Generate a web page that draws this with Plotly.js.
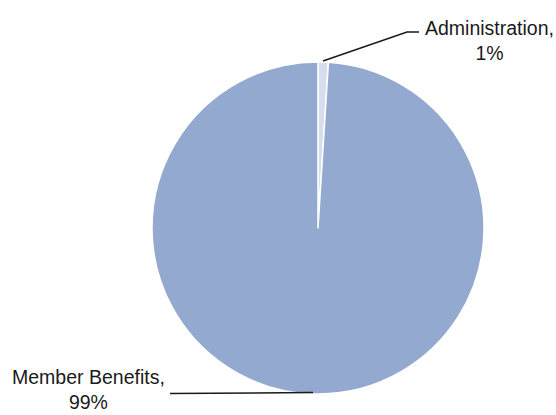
<!DOCTYPE html>
<html>
<head>
<meta charset="utf-8">
<script src="https://cdn.plot.ly/plotly-3.0.1.min.js"></script>
<style>
html,body{margin:0;padding:0;background:#fff;}
#chart{width:556px;height:415px;}
</style>
</head>
<body>
<div id="chart"></div>
<script>
const categories = ['Administration', 'Member Benefits'];
const shares = [1, 99];
const sliceColors = ['#d6deee', '#94a9cf'];

const W = 556, H = 415;
const fx = x => x / W;
const fy = y => 1 - y / H;

const total = shares.reduce((a, b) => a + b, 0);
const pct = shares.map(v => Math.round(v / total * 100) + '%');

const trace = {
  type: 'pie',
  labels: categories,
  values: shares,
  sort: false,
  direction: 'clockwise',
  rotation: 0,
  textinfo: 'none',
  hoverinfo: 'none',
  marker: {colors: sliceColors, line: {color: '#ffffff', width: 1.5}},
  domain: {x: [fx(152), fx(484)], y: [fy(394), fy(62)]},
  showlegend: false
};

const labelFont = {family: '"Liberation Sans", Arial, sans-serif', size: 19.5, color: '#1a1a1a'};

const layout = {
  width: W, height: H,
  margin: {l: 0, r: 0, t: 0, b: 0},
  paper_bgcolor: '#ffffff',
  showlegend: false,
  annotations: [
    {text: categories[0] + ',<br>' + pct[0], x: fx(489), y: fy(41), xref: 'paper', yref: 'paper',
     xanchor: 'center', yanchor: 'middle', showarrow: false, align: 'center', font: labelFont},
    {text: categories[1] + ',<br>' + pct[1], x: fx(88), y: fy(389), xref: 'paper', yref: 'paper',
     xanchor: 'center', yanchor: 'middle', showarrow: false, align: 'center', font: labelFont}
  ],
  shapes: [
    {type: 'path', xref: 'paper', yref: 'paper',
     path: 'M ' + fx(323) + ' ' + fy(61) + ' L ' + fx(407) + ' ' + fy(32) + ' L ' + fx(419) + ' ' + fy(32),
     line: {color: '#1a1a1a', width: 1.5}},
    {type: 'line', xref: 'paper', yref: 'paper',
     x0: fx(170), y0: fy(393.5), x1: fx(313), y1: fy(392.5),
     line: {color: '#1a1a1a', width: 1.5}}
  ]
};

Plotly.newPlot('chart', [trace], layout, {staticPlot: true, displayModeBar: false});
</script>
</body>
</html>
